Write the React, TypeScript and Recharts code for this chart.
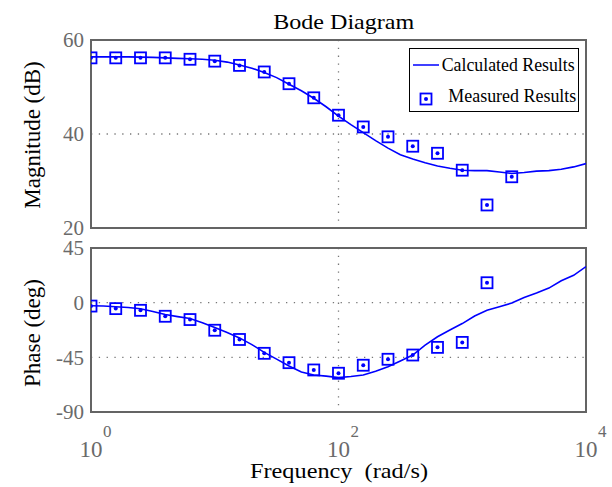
import React from 'react';
import {
  ComposedChart,
  Line,
  Scatter,
  XAxis,
  YAxis,
  CartesianGrid,
  ReferenceArea,
  Legend,
} from 'recharts';

// ---- data ----
const lineFreq = [
  1, 1.259, 1.585, 1.995, 2.512, 3.162, 3.981, 5.012, 6.31, 7.943,
  10, 12.59, 15.85, 19.95, 25.12, 31.62, 39.81, 50.12, 63.1, 79.43,
  100, 125.9, 158.5, 199.5, 251.2, 316.2, 398.1, 501.2, 631.0, 794.3,
  1000, 1259, 1585, 1995, 2512, 3162, 3981, 5012, 6310, 7943, 10000,
];
const lineMag = [
  56.4, 56.4, 56.4, 56.4, 56.35, 56.3, 56.2, 56.1, 56.0, 55.9,
  55.7, 55.3, 54.7, 54.0, 53.1, 52.0, 50.6, 49.2, 47.6, 45.8,
  43.8, 42.0, 40.3, 38.6, 37.0, 35.6, 34.7, 33.9, 33.2, 32.7,
  32.3, 32.2, 32.2, 31.9, 31.6, 31.8, 32.1, 32.2, 32.5, 33.0, 33.7,
];
const linePhase = [
  -2.5, -2.8, -3.3, -4.0, -5.0, -7.2, -9.8, -11.5, -13.1, -16.5,
  -20.5, -24.5, -29.0, -34.5, -40.9, -46.5, -52.1, -57.0, -59.5, -60.5,
  -61.7, -60.8, -59.5, -56.5, -52.7, -48.0, -43.1, -35.0, -28.1, -22.5,
  -17.2, -11.0, -6.3, -3.3, -0.3, 4.3, 8.0, 12.0, 18.0, 22.5, 29.7,
];
const measFreq = [
  1, 1.585, 2.512, 3.981, 6.31, 10, 15.85, 25.12, 39.81, 63.1,
  100, 158.5, 251.2, 398.1, 631, 1000, 1585, 2512,
];
const measMag = [
  56.2, 56.2, 56.2, 56.2, 55.9, 55.5, 54.6, 53.2, 50.7, 47.7,
  44.0, 41.5, 39.4, 37.4, 35.9, 32.3, 24.9, 30.9,
];
const measPhase = [
  -2.8, -4.9, -6.3, -11.2, -13.9, -22.7, -30.3, -41.7, -49.4, -55.4,
  -58.1, -51.5, -46.6, -43.1, -36.8, -32.7, 16.4,
];
const magTicks = [20, 40, 60];
const phaseTicks = [-90, -45, 0, 45];
const freqTicks = [1, 100, 10000];
const freqTickExp = ['0', '2', '4'];

const calcMagData = lineFreq.map((f, i) => ({ f, v: lineMag[i] }));
const calcPhaseData = lineFreq.map((f, i) => ({ f, v: linePhase[i] }));
const measMagData = measMag.map((v, i) => ({ f: measFreq[i], v }));
const measPhaseData = measPhase.map((v, i) => ({ f: measFreq[i], v }));

// ---- styles ----
const FONT = '"Liberation Serif", "Times New Roman", Times, serif';
const BLUE = '#0000ff';
const GRAY = '#6a6a6a';
const BORDER = '#646464';
const GRID = '#777777';

const SquareDot = (props: any) => {
  const { cx, cy } = props;
  if (cx == null || cy == null) return null;
  return (
    <g>
      <rect x={cx - 5.5} y={cy - 5.5} width={11} height={11} fill="none" stroke={BLUE} strokeWidth={1.8} />
      <circle cx={cx} cy={cy} r={2} fill={BLUE} />
    </g>
  );
};

const FreqTick = (props: any) => {
  const { x, y, payload } = props;
  const idx = freqTicks.indexOf(payload.value);
  const exp = idx >= 0 ? freqTickExp[idx] : '';
  return (
    <g>
      <text x={x} y={y + 45} textAnchor="middle" fontSize={23} fill={GRAY} fontFamily={FONT}>
        10
      </text>
      <text x={x + 12} y={y + 25} textAnchor="start" fontSize={17} fill={GRAY} fontFamily={FONT}>
        {exp}
      </text>
    </g>
  );
};

const LegendBox = () => (
  <svg width={170} height={64} style={{ display: 'block' }}>
    <rect x={0.5} y={0.5} width={169} height={63} fill="#ffffff" stroke="#000000" strokeWidth={1} />
    <line x1={4} y1={17} x2={30} y2={17} stroke={BLUE} strokeWidth={1.5} />
    <text x={32.7} y={22.7} fontSize={18} fontFamily={FONT} fill="#000" textLength={133} lengthAdjust="spacingAndGlyphs">
      Calculated Results
    </text>
    <SquareDot cx={17} cy={51} />
    <text x={39.3} y={53.7} fontSize={18} fontFamily={FONT} fill="#000" textLength={128} lengthAdjust="spacingAndGlyphs">
      Measured Results
    </text>
  </svg>
);

const yTickStyle = { fill: GRAY, fontSize: 21, fontFamily: FONT };

export default function App() {
  return (
    <div style={{ position: 'absolute', left: 0, top: 0, width: 612, height: 487, background: '#ffffff', overflow: 'hidden' }}>
      <div style={{ position: 'absolute', left: 0, top: 0 }}>
        <ComposedChart width={612} height={240} margin={{ top: 40, right: 26, bottom: 12, left: 0 }}>
          <XAxis
            dataKey="f"
            type="number"
            scale="log"
            domain={[1, 10000]}
            ticks={freqTicks}
            allowDataOverflow
            hide
          />
          <YAxis
            type="number"
            domain={[20, 60]}
            ticks={magTicks}
            width={91}
            axisLine={false}
            tickLine={false}
            tickSize={0}
            tickMargin={7}
            tick={yTickStyle}
            interval={0}
          />
          <CartesianGrid stroke={GRID} strokeDasharray="1.3 6.5" strokeWidth={1.3} />
          <ReferenceArea x1={1} x2={10000} y1={20} y2={60} fill="none" stroke={BORDER} strokeWidth={2} fillOpacity={0} />
          <Line
            data={calcMagData}
            dataKey="v"
            type="linear"
            stroke={BLUE}
            strokeWidth={1.6}
            dot={false}
            activeDot={false}
            isAnimationActive={false}
            name="Calculated Results"
          />
          <Scatter
            data={measMagData}
            dataKey="v"
            shape={<SquareDot />}
            isAnimationActive={false}
            name="Measured Results"
          />
          <Legend
            layout="horizontal"
            align="center"
            verticalAlign="middle"
            width={170}
            height={64}
            content={<LegendBox />}
            wrapperStyle={{ position: 'absolute', left: 409, top: 48, width: 170, height: 64 }}
          />
        </ComposedChart>
      </div>
      <div style={{ position: 'absolute', left: 0, top: 230 }}>
        <ComposedChart width={612} height={257} margin={{ top: 18, right: 26, bottom: 0, left: 0 }}>
          <XAxis
            dataKey="f"
            type="number"
            scale="log"
            domain={[1, 10000]}
            ticks={freqTicks}
            allowDataOverflow
            height={75}
            axisLine={false}
            tickLine={false}
            tickSize={0}
            tickMargin={0}
            interval={0}
            tick={<FreqTick />}
          />
          <YAxis
            type="number"
            domain={[-90, 45]}
            ticks={phaseTicks}
            width={91}
            axisLine={false}
            tickLine={false}
            tickSize={0}
            tickMargin={7}
            tick={yTickStyle}
            interval={0}
          />
          <CartesianGrid stroke={GRID} strokeDasharray="1.3 6.5" strokeWidth={1.3} />
          <ReferenceArea x1={1} x2={10000} y1={-90} y2={45} fill="none" stroke={BORDER} strokeWidth={2} fillOpacity={0} />
          <Line
            data={calcPhaseData}
            dataKey="v"
            type="linear"
            stroke={BLUE}
            strokeWidth={1.6}
            dot={false}
            activeDot={false}
            isAnimationActive={false}
          />
          <Scatter data={measPhaseData} dataKey="v" shape={<SquareDot />} isAnimationActive={false} />
        </ComposedChart>
      </div>
      <svg
        width={612}
        height={487}
        style={{ position: 'absolute', left: 0, top: 0, pointerEvents: 'none' }}
      >
        <text x={343.7} y={29.3} textAnchor="middle" fontSize={22} fontFamily={FONT} fill="#000" textLength={141} lengthAdjust="spacingAndGlyphs">
          Bode Diagram
        </text>
        <text
          x={0}
          y={0}
          transform="translate(40,135) rotate(-90)"
          textAnchor="middle"
          fontSize={23}
          fontFamily={FONT}
          fill="#000"
        >
          Magnitude (dB)
        </text>
        <text
          x={0}
          y={0}
          transform="translate(40,333) rotate(-90)"
          textAnchor="middle"
          fontSize={23}
          fontFamily={FONT}
          fill="#000"
        >
          Phase (deg)
        </text>
        <text x={339} y={478} textAnchor="middle" fontSize={22} fontFamily={FONT} fill="#000" style={{ whiteSpace: 'pre' }} textLength={178} lengthAdjust="spacingAndGlyphs">
          {'Frequency  (rad/s)'}
        </text>
      </svg>
    </div>
  );
}
